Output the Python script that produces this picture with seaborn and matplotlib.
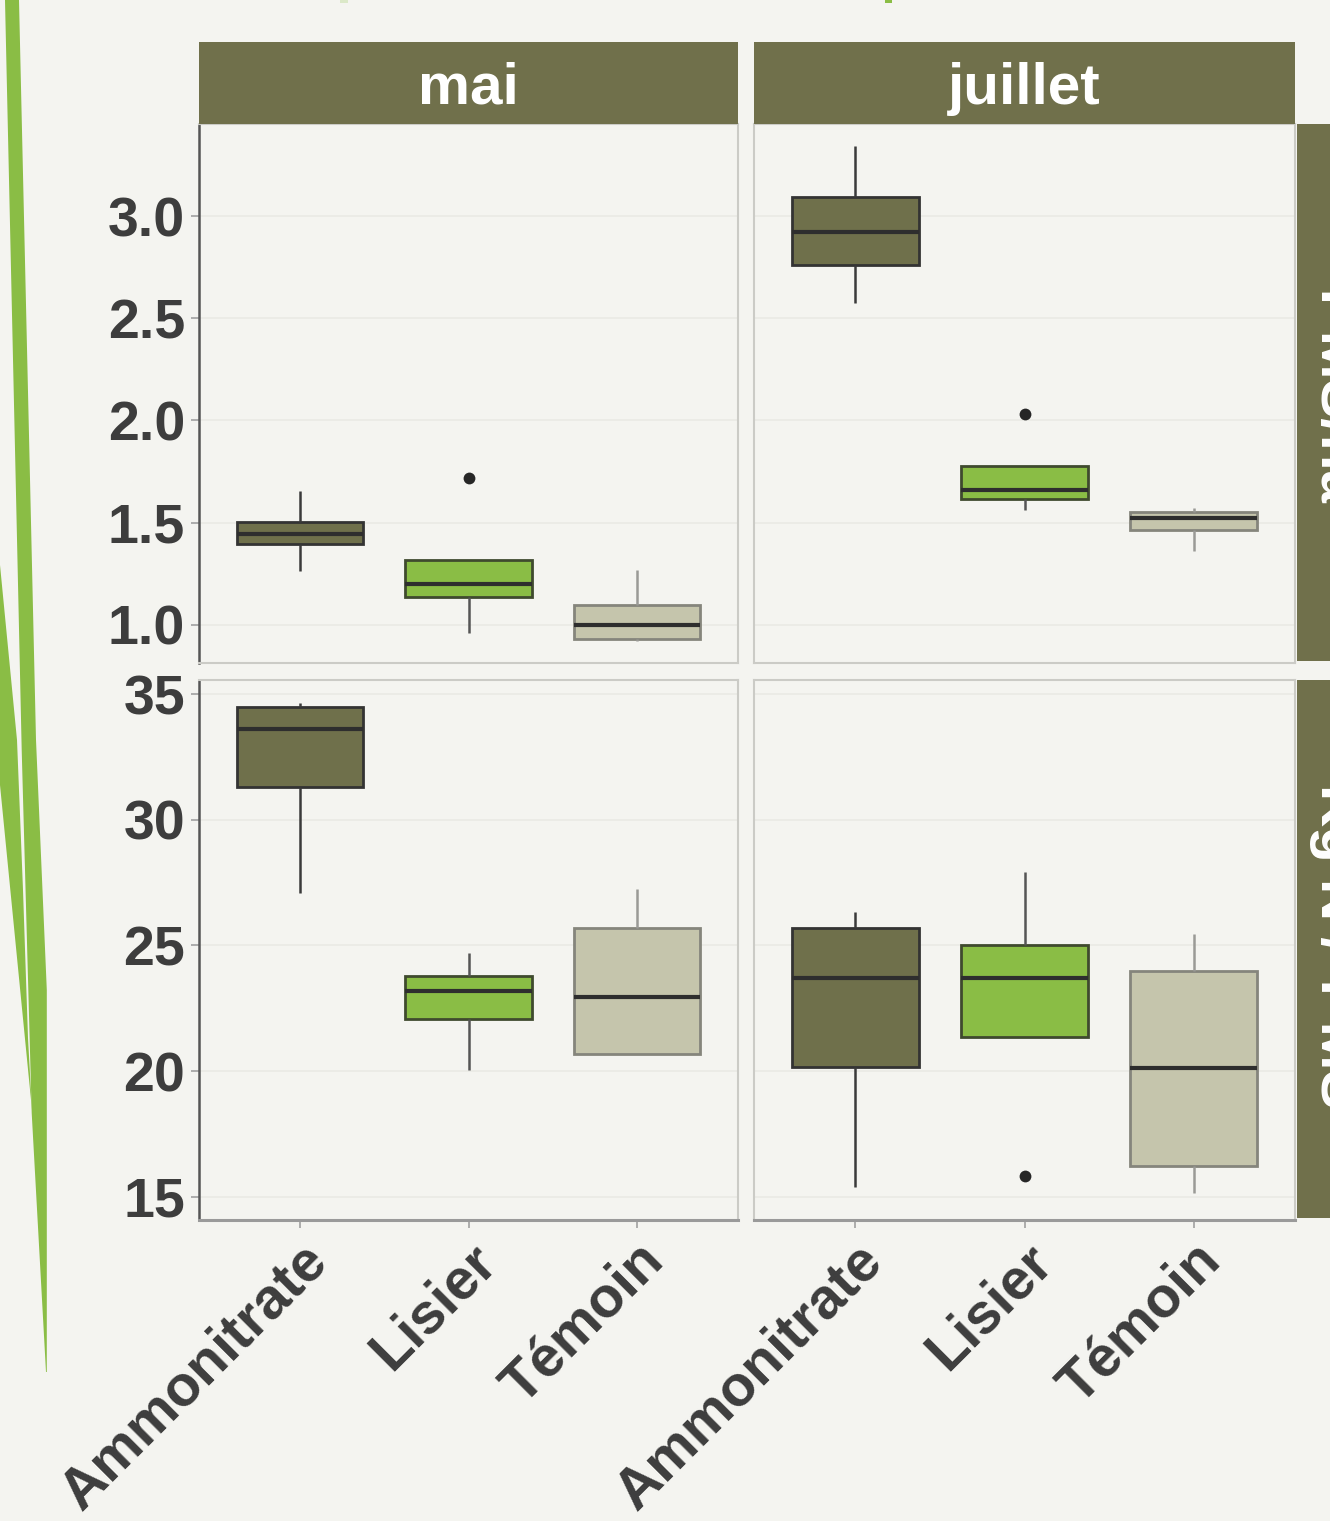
import numpy as np
import pandas as pd
import matplotlib
matplotlib.use("Agg")
import matplotlib.pyplot as plt
from matplotlib.patches import Polygon, Rectangle
import seaborn as sns

# ---------------------------------------------------------------- data
treatments = ["Ammonitrate", "Lisier", "Témoin"]
months = ["mai", "juillet"]
row_labels = ["T MS/ha", "Kg N / T MS"]

# per treatment: whisker low, Q1, median, Q3, whisker high
tms_mai = [[1.263, 1.395, 1.446, 1.503, 1.653],
           [0.963, 1.136, 1.202, 1.319, 1.319],
           [0.924, 0.932, 1.000, 1.097, 1.271]]
tms_juillet = [[2.576, 2.759, 2.922, 3.093, 3.344],
               [1.564, 1.615, 1.661, 1.776, 1.776],
               [1.364, 1.463, 1.525, 1.554, 1.573]]
kgn_mai = [[27.10, 31.32, 33.61, 34.49, 34.63],
           [20.03, 22.06, 23.20, 23.79, 24.69],
           [20.70, 20.70, 22.94, 25.71, 27.24]]
kgn_juillet = [[15.38, 20.18, 23.69, 25.71, 26.32],
               [21.35, 21.35, 23.69, 25.01, 27.93],
               [15.14, 16.24, 20.11, 23.98, 25.47]]

# points beyond the whiskers
outlier_row = ["T MS/ha", "T MS/ha", "Kg N / T MS"]
outlier_month = ["mai", "juillet", "juillet"]
outlier_treatment = ["Lisier", "Lisier", "Lisier"]
outlier_value = [1.720, 2.034, 15.85]

y_ticks_tms = [1.0, 1.5, 2.0, 2.5, 3.0]
y_ticks_kgn = [15, 20, 25, 30, 35]

summaries = {("T MS/ha", "mai"): tms_mai, ("T MS/ha", "juillet"): tms_juillet,
             ("Kg N / T MS", "mai"): kgn_mai, ("Kg N / T MS", "juillet"): kgn_juillet}

records = []
for (row, month), table in summaries.items():
    for trt, values in zip(treatments, table):
        for v in values:
            records.append({"variable": row, "mois": month, "traitement": trt, "valeur": v})
df = pd.DataFrame(records)
out_df = pd.DataFrame({"variable": outlier_row, "mois": outlier_month,
                       "traitement": outlier_treatment, "valeur": outlier_value})

# ---------------------------------------------------------------- style
BG = "#f4f4f0"
STRIP = "#70704b"
TEXT = "#3d3d3d"
fills = {"Ammonitrate": "#6f704b", "Lisier": "#8abd45", "Témoin": "#c5c5ac"}
edges = {"Ammonitrate": "#333333", "Lisier": "#3f4a2e", "Témoin": "#85857c"}
whisk = {"Ammonitrate": "#3a3a3a", "Lisier": "#555555", "Témoin": "#9a9a96"}

sns.set_theme(style="white")
plt.rcParams["font.family"] = ["Liberation Sans", "DejaVu Sans"]
plt.rcParams["font.weight"] = "bold"

W, H = 1330, 1521
fig = plt.figure(figsize=(W / 100, H / 100), dpi=100, facecolor=BG)


def fx(x):
    return x / W


def fy(y):
    return 1 - y / H


def px_rect(x0, y0, x1, y1, color, z=0):
    fig.add_artist(Rectangle((fx(x0), fy(y1)), (x1 - x0) / W, (y1 - y0) / H,
                             transform=fig.transFigure, color=color, lw=0, zorder=z))


# slide decoration on the left edge
band_a = [(5, 0), (19, 0), (36, 740), (46.8, 990), (46.8, 1372), (46, 1372),
          (31.7, 1113), (21.7, 750)]
band_b = [(0, 565), (17, 740), (23, 890), (28, 1038), (32, 1110), (0, 785)]
for band in (band_a, band_b):
    fig.add_artist(Polygon([(fx(x), fy(y)) for x, y in band], closed=True,
                           transform=fig.transFigure, color="#8abd45", lw=0, zorder=0))
px_rect(340, 0, 348, 3, "#dbe8c8")
px_rect(885, 0, 892, 3, "#8abd45")

col_x = [(199, 738), (754, 1295)]
row_y = [(124, 663), (680, 1220)]
ylims = [(0.814, 3.450), (14.085, 35.557)]
yticks = [y_ticks_tms, y_ticks_kgn]

for r, row in enumerate(row_labels):
    for c, month in enumerate(months):
        x0, x1 = col_x[c]
        y0, y1 = row_y[r]
        ax = fig.add_axes([fx(x0), fy(y1), (x1 - x0) / W, (y1 - y0) / H])
        ax.set_facecolor(BG)
        panel = df[(df.variable == row) & (df.mois == month)]
        for trt in treatments:
            sub = panel[panel.traitement == trt]
            sns.boxplot(data=sub, x="traitement", y="valeur", order=treatments,
                        color=fills[trt], linecolor=edges[trt], saturation=1,
                        width=0.75, linewidth=2.0, whis=(0, 100), showfliers=False,
                        medianprops=dict(color="#2e2e2e", linewidth=3.0),
                        whiskerprops=dict(color=whisk[trt], linewidth=1.8),
                        capprops=dict(visible=False), ax=ax)
        pts = out_df[(out_df.variable == row) & (out_df.mois == month)]
        if len(pts):
            sns.stripplot(data=pts, x="traitement", y="valeur", order=treatments,
                          jitter=False, color="#262626", size=8.5, linewidth=0,
                          ax=ax, zorder=5)

        ax.set_xlim(-0.6, 2.6)
        ax.set_ylim(*ylims[r])
        ax.set_yticks(yticks[r])
        if r == 0:
            ax.set_yticklabels([f"{v:.1f}" for v in yticks[r]])
        else:
            ax.set_yticklabels([f"{v:d}" for v in yticks[r]])
        ax.set_xlabel("")
        ax.set_ylabel("")
        ax.grid(axis="y", color="#ebebe6", linewidth=1.4)
        ax.grid(axis="x", visible=False)
        ax.set_axisbelow(True)

        ax.tick_params(axis="both", colors="#a0a0a0", length=6, width=1.2,
                       labelcolor=TEXT, pad=4)
        ax.tick_params(axis="y", labelsize=40, left=(c == 0), labelleft=(c == 0))
        ax.tick_params(axis="x", labelsize=41, bottom=(r == 1), labelbottom=(r == 1))
        if r == 1:
            for lab in ax.get_xticklabels():
                lab.set_rotation(45)
                lab.set_ha("right")
                lab.set_va("top")
                lab.set_rotation_mode("anchor")
                lab.set_fontweight("bold")
        for lab in ax.get_yticklabels():
            lab.set_fontweight("bold")

        for side, sp in ax.spines.items():
            sp.set_visible(True)
            sp.set_color("#cbcbc6")
            sp.set_linewidth(1.5)
        if c == 0:
            ax.spines["left"].set_color("#555555")
            ax.spines["left"].set_linewidth(1.8)
        if r == 1:
            ax.spines["bottom"].set_color("#9a9a9a")
            ax.spines["bottom"].set_linewidth(2.2)

# facet strips
for c, month in enumerate(months):
    x0, x1 = col_x[c]
    px_rect(x0, 42, x1, 124, STRIP, z=2)
    fig.text(fx((x0 + x1) / 2), fy(89), month, color="white", fontsize=42,
             fontweight="bold", ha="center", va="center", zorder=3)
# row strips run past the right edge of the figure
for r, row in enumerate(row_labels):
    y0, y1 = row_y[r]
    px_rect(1297, y0, 1400, y1 - 2, STRIP, z=2)
    fig.text(fx(1309), fy((y0 + y1) / 2 - 4), row, color="white", fontsize=42,
             fontweight="bold", rotation=-90, ha="left", va="center", zorder=3)

fig.savefig("out.png", dpi=100, facecolor=BG)
